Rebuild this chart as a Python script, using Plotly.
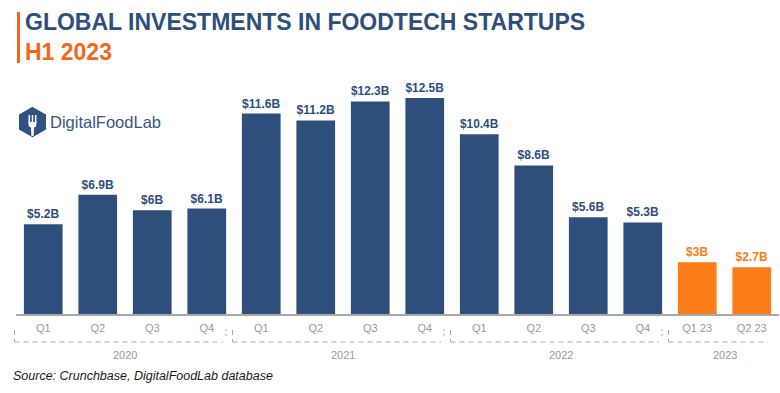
import plotly.graph_objects as go

# ---- data ----
quarters = ["Q1", "Q2", "Q3", "Q4", "Q1", "Q2", "Q3", "Q4",
            "Q1", "Q2", "Q3", "Q4", "Q1 23", "Q2 23"]
years = ["2020", "2020", "2020", "2020", "2021", "2021", "2021", "2021",
         "2022", "2022", "2022", "2022", "2023", "2023"]
investments = [5.2, 6.9, 6.0, 6.1, 11.6, 11.2, 12.3, 12.5,
               10.4, 8.6, 5.6, 5.3, 3.0, 2.7]
year_groups = ["2020", "2021", "2022", "2023"]

BLUE = "#2e4e7b"
ORANGE = "#fa7d19"
TITLE_ORANGE = "#f5651c"
GREY = "#9a9a9a"
DASH_GREY = "#a8a8a8"

# ---- layout geometry (pixels) ----
W, H = 780, 393
ML, MR, MT, MB = 16, 1, 60, 79
PW = W - ML - MR
PH = H - MT - MB
BASE = H - MB
PX_PER_B = 17.28
YMAX = PH / PX_PER_B
SLOT = PW / len(quarters)


def xp(px):
    return (px - ML) / PW


def yp(py):
    return (BASE - py) / PH


xs = list(range(len(quarters)))
colors = [ORANGE if y == "2023" else BLUE for y in years]
labels = [f"${v:g}B" for v in investments]

fig = go.Figure()
fig.add_trace(go.Bar(
    x=xs, y=investments, marker=dict(color=colors, line=dict(width=0)),
    width=0.71, text=labels, textposition="outside",
    textfont=dict(family="Liberation Sans, Arial, sans-serif", size=12,
                  color=colors, weight="bold"),
    cliponaxis=False, hoverinfo="skip",
))

shapes = []
annotations = []

# title accent bar
shapes.append(dict(type="rect", xref="paper", yref="paper",
                   x0=xp(17), x1=xp(20), y0=yp(12), y1=yp(63),
                   fillcolor=TITLE_ORANGE, line=dict(width=0)))
annotations.append(dict(xref="paper", yref="paper", x=xp(23), y=yp(22),
                        xanchor="left", yanchor="middle", showarrow=False,
                        text="<b>GLOBAL INVESTMENTS IN FOODTECH STARTUPS</b>",
                        font=dict(family="Liberation Sans, Arial", size=23, color=BLUE)))
annotations.append(dict(xref="paper", yref="paper", x=xp(23), y=yp(52),
                        xanchor="left", yanchor="middle", showarrow=False,
                        text="<b>H1 2023</b>",
                        font=dict(family="Liberation Sans, Arial", size=23, color=TITLE_ORANGE)))

# logo: hexagon with fork
hx = [(32.5, 108), (45, 115), (45, 129), (32.5, 136), (20, 129), (20, 115)]
path = "M " + " L ".join(f"{xp(a)},{yp(b)}" for a, b in hx) + " Z"
shapes.append(dict(type="path", xref="paper", yref="paper", path=path,
                   fillcolor="#2f5283", line=dict(color="#2f5283", width=2)))
for tx in (29.3, 32.5, 35.7):
    shapes.append(dict(type="line", xref="paper", yref="paper",
                       x0=xp(tx), x1=xp(tx), y0=yp(115), y1=yp(123),
                       line=dict(color="white", width=1.5)))
shapes.append(dict(type="path", xref="paper", yref="paper",
                   path=(f"M {xp(28.5)},{yp(122)} L {xp(36.5)},{yp(122)} "
                         f"L {xp(36.5)},{yp(124)} Q {xp(36.5)},{yp(127)} {xp(34)},{yp(127.5)} "
                         f"L {xp(33.6)},{yp(136)} L {xp(31.4)},{yp(136)} L {xp(31)},{yp(127.5)} "
                         f"Q {xp(28.5)},{yp(127)} {xp(28.5)},{yp(124)} Z"),
                   fillcolor="white", line=dict(width=0)))
annotations.append(dict(xref="paper", yref="paper", x=xp(47.5), y=yp(122),
                        xanchor="left", yanchor="middle", showarrow=False,
                        text="DigitalFoodLab",
                        font=dict(family="Liberation Sans, Arial", size=16.5, color="#3a5784")))

# year group brackets (dashed) and labels
for gi, g in enumerate(year_groups):
    idx = [i for i, y in enumerate(years) if y == g]
    lpx = ML + idx[0] * SLOT
    rpx = ML + (idx[-1] + 1) * SLOT
    x_left = lpx - 1.5
    x_right = min(rpx - 8, W - 1)
    dash = dict(color=DASH_GREY, width=1, dash="5px,4px")
    shapes.append(dict(type="line", xref="paper", yref="paper",
                       x0=xp(x_left), x1=xp(x_left), y0=yp(330), y1=yp(342), line=dash))
    shapes.append(dict(type="line", xref="paper", yref="paper",
                       x0=xp(x_left), x1=xp(x_right - 3), y0=yp(342), y1=yp(342), line=dash))
    if gi < len(year_groups) - 1:
        shapes.append(dict(type="line", xref="paper", yref="paper",
                           x0=xp(x_right), x1=xp(x_right), y0=yp(329), y1=yp(339),
                           line=dict(color=DASH_GREY, width=1, dash="2px,3px")))
    cx = sum(idx) / len(idx)
    annotations.append(dict(xref="x", yref="paper", x=cx, y=yp(355),
                            xanchor="center", yanchor="middle", showarrow=False,
                            text=g, font=dict(family="Liberation Sans, Arial", size=11, color=GREY)))

annotations.append(dict(xref="paper", yref="paper", x=xp(11), y=yp(376),
                        xanchor="left", yanchor="middle", showarrow=False,
                        text="<i>Source: Crunchbase, DigitalFoodLab database</i>",
                        font=dict(family="Liberation Sans, Arial", size=12.5, color="#1a1a1a")))

fig.update_layout(
    width=W, height=H, margin=dict(l=ML, r=MR, t=MT, b=MB),
    paper_bgcolor="white", plot_bgcolor="white", showlegend=False,
    bargap=0.29, shapes=shapes, annotations=annotations,
    xaxis=dict(tickmode="array", tickvals=xs, ticktext=quarters,
               range=[-0.5, len(quarters) - 0.5], showgrid=False, zeroline=False,
               showline=True, linecolor="#a8a8a8", linewidth=1.5,
               ticks="outside", ticklen=3, tickcolor="rgba(0,0,0,0)",
               tickfont=dict(family="Liberation Sans, Arial", size=11, color=GREY)),
    yaxis=dict(range=[0, YMAX], visible=False, fixedrange=True),
)

fig.write_html("out.html", config={"displayModeBar": False, "staticPlot": True})

# remove default body margin so the figure sits at the window origin
with open("out.html", "r", encoding="utf-8") as f:
    html = f.read()
html = html.replace("<body>", '<body style="margin:0;padding:0;overflow:hidden">', 1)
with open("out.html", "w", encoding="utf-8") as f:
    f.write(html)
